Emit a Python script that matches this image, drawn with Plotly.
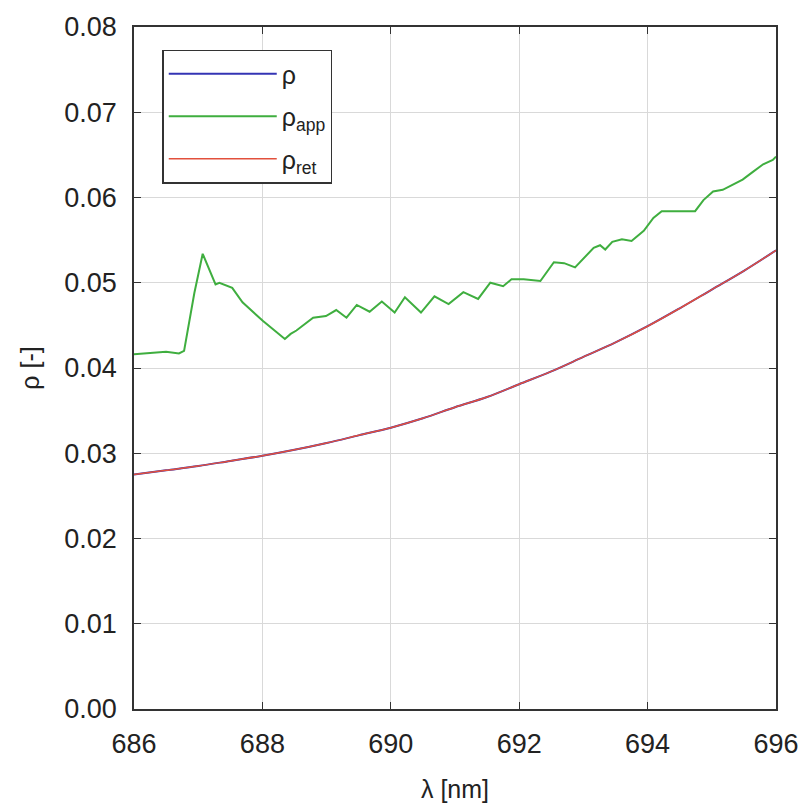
import plotly.graph_objects as go

# Wavelength grid for the smooth curves
lam_smooth = [686.0, 686.5, 687.0, 687.5, 688.0, 688.5, 689.0, 689.5, 690.0, 690.5,
              691.0, 691.5, 692.0, 692.5, 693.0, 693.5, 694.0, 694.5, 695.0, 695.5, 696.0]
rho = [0.0275, 0.0280, 0.0285, 0.0291, 0.0297, 0.0304, 0.0312, 0.0321, 0.0330, 0.0341,
       0.0354, 0.0366, 0.0381, 0.0396, 0.0413, 0.0430, 0.0449, 0.0470, 0.0492, 0.0514, 0.0538]
rho_ret = [0.0275, 0.0280, 0.0285, 0.0291, 0.0297, 0.0304, 0.0312, 0.0321, 0.0330, 0.0341,
           0.0354, 0.0366, 0.0381, 0.0396, 0.0413, 0.0430, 0.0449, 0.0470, 0.0492, 0.0514, 0.0538]

# Apparent reflectance
lam_app = [686.0, 686.3, 686.5, 686.7, 686.78, 686.94, 687.07, 687.27, 687.33, 687.53,
           687.69, 688.01, 688.35, 688.44, 688.53, 688.79, 688.99, 689.15, 689.31, 689.47,
           689.67, 689.86, 690.06, 690.22, 690.47, 690.68, 690.90, 691.13, 691.36, 691.55,
           691.75, 691.88, 692.07, 692.33, 692.54, 692.70, 692.87, 693.16, 693.26, 693.34,
           693.45, 693.60, 693.75, 693.94, 694.09, 694.22, 694.45, 694.74, 694.87, 695.02,
           695.17, 695.33, 695.48, 695.64, 695.80, 695.95, 696.0]
rho_app = [0.0416, 0.0418, 0.0419, 0.0417, 0.0420, 0.0488, 0.0534, 0.0498, 0.0500, 0.0494,
           0.0477, 0.0455, 0.0434, 0.0440, 0.0444, 0.0459, 0.0461, 0.0468, 0.0459, 0.0474,
           0.0466, 0.0478, 0.0465, 0.0483, 0.0465, 0.0484, 0.0475, 0.0489, 0.0481, 0.0500,
           0.0496, 0.0504, 0.0504, 0.0502, 0.0524, 0.0523, 0.0518, 0.0541, 0.0544, 0.0539,
           0.0548, 0.0551, 0.0549, 0.0561, 0.0576, 0.0584, 0.0584, 0.0584, 0.0597, 0.0607,
           0.0609, 0.0615, 0.0621, 0.0630, 0.0639, 0.0644, 0.0648]

x_ticks = [686, 688, 690, 692, 694, 696]
y_ticks = [0.00, 0.01, 0.02, 0.03, 0.04, 0.05, 0.06, 0.07, 0.08]

FONT = "Liberation Sans, Arial, sans-serif"

fig = go.Figure()
fig.add_trace(go.Scatter(x=lam_smooth, y=rho, mode="lines", name="ρ", legendgroup="a",
                         line=dict(color="#3434b4", width=2, shape="spline")))
fig.add_trace(go.Scatter(x=lam_app, y=rho_app, mode="lines", name="ρ<sub>app</sub>",
                         legendgroup="b", line=dict(color="#3fae3f", width=2)))
fig.add_trace(go.Scatter(x=lam_smooth, y=rho_ret, mode="lines", name="ρ<sub>ret</sub>",
                         legendgroup="c",
                         line=dict(color="#e2503c", width=1.5, shape="spline")))

axis_common = dict(showgrid=True, gridcolor="#d9d9d9", gridwidth=1,
                   showline=True, linecolor="#333333", linewidth=1.5, mirror="ticks",
                   ticks="inside", ticklen=7, tickcolor="#333333",
                   tickfont=dict(family=FONT, size=27, color="#222222"),
                   zeroline=False)

fig.update_layout(
    width=811, height=811,
    margin=dict(l=134, r=35, t=18, b=101),
    paper_bgcolor="white", plot_bgcolor="white",
    font=dict(family=FONT, color="#222222"),
    xaxis=dict(range=[686, 696], tickvals=x_ticks, ticktext=[str(v) for v in x_ticks],
               ticklabelstandoff=10,
               title=dict(text="λ [nm]", font=dict(family=FONT, size=25), standoff=22),
               **axis_common),
    yaxis=dict(range=[0, 0.08], tickvals=y_ticks, ticktext=[f"{v:.2f}" for v in y_ticks],
               ticklabelstandoff=10,
               title=dict(text="ρ [-]", font=dict(family=FONT, size=25), standoff=18),
               **axis_common),
    legend=dict(x=0.044, y=0.967, xanchor="left", yanchor="top",
                bgcolor="white", bordercolor="#333333", borderwidth=1.5,
                font=dict(family=FONT, size=25, color="#222222"),
                itemwidth=108, tracegroupgap=7),
    showlegend=True,
)

fig.write_html("out.html")
